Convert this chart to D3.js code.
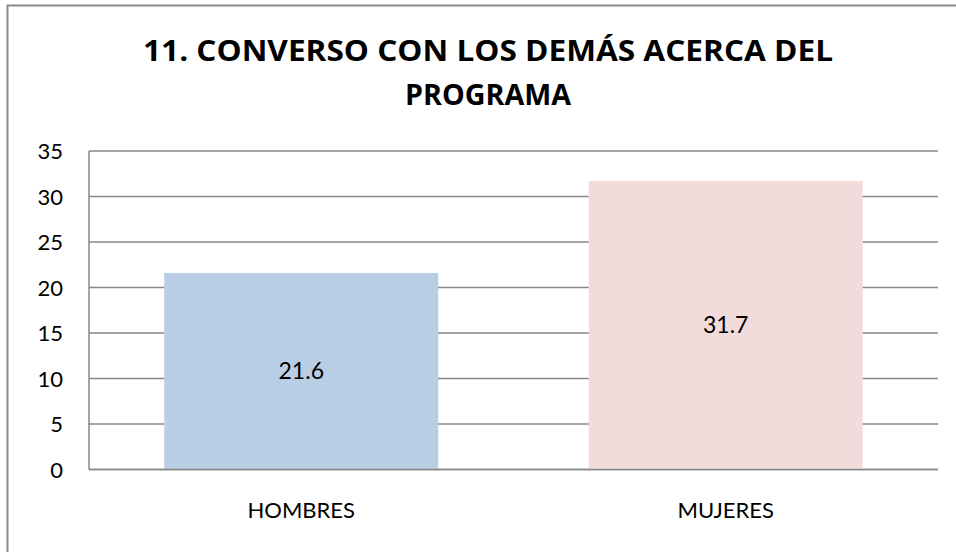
<!DOCTYPE html>
<html>
<head>
<meta charset="utf-8">
<script src="https://cdn.jsdelivr.net/npm/d3@7"></script>
<style>
  html, body { margin: 0; padding: 0; background: #fff; overflow: hidden; }
  svg { display: block; }
</style>
</head>
<body>
<svg id="chart" width="956" height="552"></svg>
<script>
const titleLines = ["11. CONVERSO CON LOS DEMÁS ACERCA DEL", "PROGRAMA"];
const categories = ["HOMBRES", "MUJERES"];
const values = [21.6, 31.7];
const barColors = ["#B9CDE5", "#F2DCDB"];
const yTicks = [0, 5, 10, 15, 20, 25, 30, 35];

const svg = d3.select("#chart");
const font = "Lato, 'Open Sans', sans-serif";
const titleFont = "'Open Sans', Lato, sans-serif";
const grid = "#878787";

// outer chart border (extends past right/bottom edges as in reference)
svg.append("rect")
  .attr("x", 7.5).attr("y", 5.5)
  .attr("width", 960).attr("height", 560)
  .attr("fill", "none").attr("stroke", "#8c8c8c").attr("stroke-width", 2);

const plot = { left: 89, right: 938, top: 151, bottom: 469.5 };

const x = d3.scaleBand()
  .domain(categories)
  .range([plot.left, plot.right])
  .paddingInner(0.3545)
  .paddingOuter(0.1773);

const y = d3.scaleLinear()
  .domain([0, 35])
  .range([plot.bottom, plot.top]);

// title
const titleY = [61, 105];
const titleLen = [690, 166];
svg.selectAll("text.title").data(titleLines).enter().append("text")
  .attr("class", "title")
  .attr("x", 488).attr("y", (d, i) => titleY[i])
  .attr("text-anchor", "middle")
  .attr("font-family", titleFont).attr("font-weight", "bold")
  .attr("font-size", 29)
  .attr("textLength", (d, i) => titleLen[i])
  .attr("lengthAdjust", "spacingAndGlyphs")
  .attr("fill", "#000")
  .text(d => d);

// gridlines
svg.append("g")
  .selectAll("line").data(yTicks).enter().append("line")
  .attr("x1", plot.left).attr("x2", plot.right)
  .attr("y1", d => y(d)).attr("y2", d => y(d))
  .attr("stroke", grid).attr("stroke-width", 1.5);

// bars
svg.append("g")
  .selectAll("rect").data(values).enter().append("rect")
  .attr("x", (d, i) => x(categories[i]))
  .attr("width", x.bandwidth())
  .attr("y", d => y(d))
  .attr("height", d => y(0) - y(d))
  .attr("fill", (d, i) => barColors[i]);

// axes lines (redraw baseline over bars)
svg.append("line")
  .attr("x1", plot.left).attr("x2", plot.right)
  .attr("y1", y(0)).attr("y2", y(0))
  .attr("stroke", grid).attr("stroke-width", 1.5);
svg.append("line")
  .attr("x1", plot.left).attr("x2", plot.left)
  .attr("y1", y(35)).attr("y2", y(0))
  .attr("stroke", grid).attr("stroke-width", 1.5);

// y-axis tick labels via d3 axis
const yAxis = d3.axisLeft(y).tickValues(yTicks).tickSize(0).tickPadding(26);
const gy = svg.append("g").attr("transform", `translate(${plot.left},0)`).call(yAxis);
gy.select(".domain").remove();
gy.selectAll("text")
  .attr("font-family", font).attr("font-size", 22).attr("fill", "#000")
  .attr("dy", "0.35em");

// x-axis labels
const xAxis = d3.axisBottom(x).tickSize(0).tickPadding(33);
const gx = svg.append("g").attr("transform", `translate(0,${plot.bottom})`).call(xAxis);
gx.select(".domain").remove();
gx.selectAll("text")
  .attr("font-family", font).attr("font-size", 22).attr("fill", "#000");

// data labels
svg.append("g")
  .selectAll("text").data(values).enter().append("text")
  .attr("x", (d, i) => x(categories[i]) + x.bandwidth() / 2)
  .attr("y", d => (y(d) + y(0)) / 2)
  .attr("dy", "0.35em")
  .attr("text-anchor", "middle")
  .attr("font-family", font).attr("font-size", 23).attr("fill", "#000")
  .text(d => d.toFixed(1));
</script>
</body>
</html>
